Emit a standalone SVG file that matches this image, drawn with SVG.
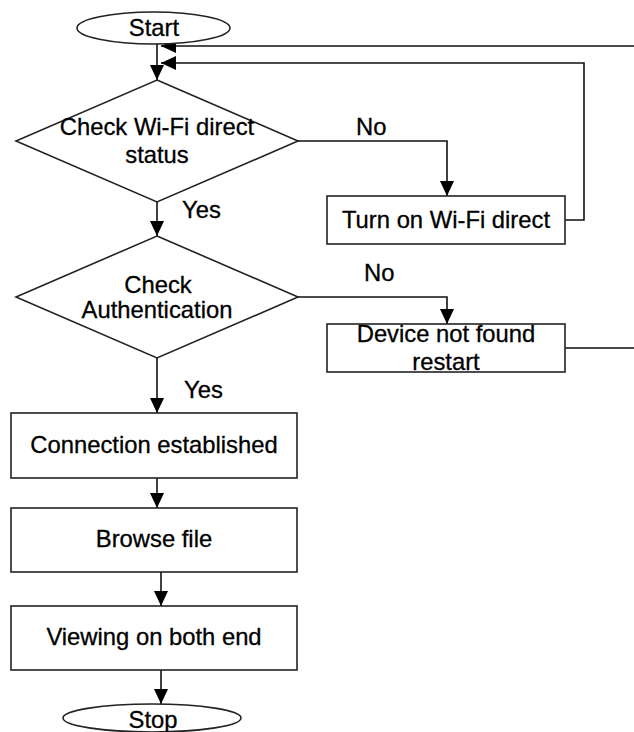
<svg xmlns="http://www.w3.org/2000/svg" width="634" height="732" viewBox="0 0 634 732">
<style>
.shape{fill:#fff;stroke:#222;stroke-width:1.6}
.conn{fill:none;stroke:#111;stroke-width:1.6}
.t{font-family:"Liberation Sans",Arial,sans-serif;font-size:23.8px;fill:#000;stroke:#000;stroke-width:0.3;text-anchor:middle}
.l{font-family:"Liberation Sans",Arial,sans-serif;font-size:23.8px;fill:#000;stroke:#000;stroke-width:0.3}
</style>
<defs>
<marker id="arr" markerUnits="userSpaceOnUse" markerWidth="16" markerHeight="14" viewBox="0 0 16 14" refX="15" refY="7" orient="auto">
<path d="M0,0 L15,7 L0,14 Z" fill="#000"/>
</marker>
</defs>
<rect width="634" height="732" fill="#fff"/>
<g id="connectors">
<path class="conn" d="M157,44 V80" marker-end="url(#arr)"/>
<path class="conn" d="M565,348 H640 V46 H161" marker-end="url(#arr)"/>
<path class="conn" d="M565,220 H584 V63 H161" marker-end="url(#arr)"/>
<path class="conn" d="M298,141 H447 V196" marker-end="url(#arr)"/>
<path class="conn" d="M157,202 V236" marker-end="url(#arr)"/>
<path class="conn" d="M298,297 H447 V324" marker-end="url(#arr)"/>
<path class="conn" d="M157,358 V413" marker-end="url(#arr)"/>
<path class="conn" d="M157,478 V508" marker-end="url(#arr)"/>
<path class="conn" d="M161,572 V606" marker-end="url(#arr)"/>
<path class="conn" d="M161,670 V704" marker-end="url(#arr)"/>
<text class="l" x="356" y="135">No</text>
<text class="l" x="182" y="218">Yes</text>
<text class="l" x="364" y="281">No</text>
<text class="l" x="184" y="398">Yes</text>
</g>
<g id="start">
<ellipse class="shape" cx="153.5" cy="28" rx="76.5" ry="16"/>
<text class="t" x="154" y="36">Start</text>
</g>
<g id="check-wifi">
<polygon class="shape" points="157,80 298,141 157,202 16,141"/>
<text class="t" x="157" y="135">Check Wi-Fi direct</text>
<text class="t" x="157" y="163">status</text>
</g>
<g id="turn-on">
<rect class="shape" x="327" y="196" width="238" height="48"/>
<text class="t" x="446" y="228">Turn on Wi-Fi direct</text>
</g>
<g id="check-auth">
<polygon class="shape" points="157,236 298,297 157,358 16,297"/>
<text class="t" x="158" y="293">Check</text>
<text class="t" x="157" y="318">Authentication</text>
</g>
<g id="not-found">
<rect class="shape" x="327" y="324" width="238" height="48"/>
<text class="t" x="446" y="342">Device not found</text>
<text class="t" x="446" y="370">restart</text>
</g>
<g id="connection">
<rect class="shape" x="11" y="413" width="286" height="65"/>
<text class="t" x="154" y="453">Connection established</text>
</g>
<g id="browse">
<rect class="shape" x="11" y="508" width="286" height="64"/>
<text class="t" x="154" y="547">Browse file</text>
</g>
<g id="viewing">
<rect class="shape" x="11" y="606" width="286" height="64"/>
<text class="t" x="154" y="645">Viewing on both end</text>
</g>
<g id="stop">
<ellipse class="shape" cx="152" cy="718" rx="89" ry="14"/>
<text class="t" x="153" y="728">Stop</text>
</g>
</svg>
